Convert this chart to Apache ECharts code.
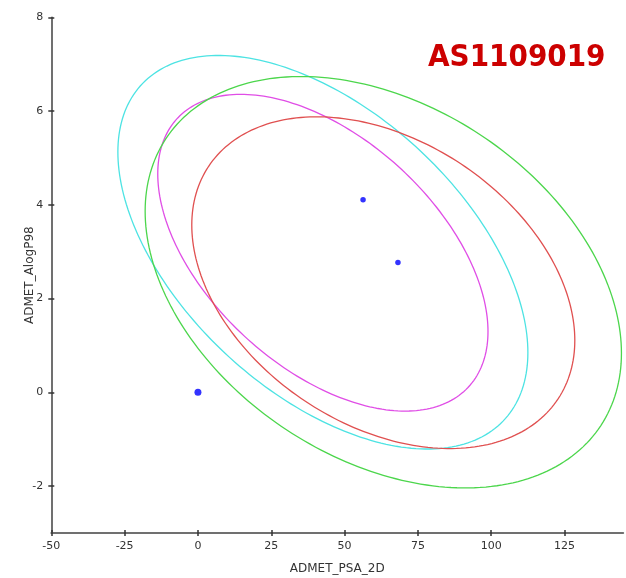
<!DOCTYPE html>
<html>
<head>
<meta charset="utf-8">
<script src="https://cdn.jsdelivr.net/npm/echarts@6/dist/echarts.min.js"></script>
<style>
html,body{margin:0;padding:0;background:#fff;}
#chart{width:626px;height:578px;}
</style>
</head>
<body>
<div id="chart"></div>
<script>
// ---- Data ----
const chartTitle = 'AS1109019';
const xAxisName = 'ADMET_PSA_2D';
const yAxisName = 'ADMET_AlogP98';
const xTicks = [-50, -25, 0, 25, 50, 75, 100, 125];
const yTicks = [-2, 0, 2, 4, 6, 8];
const xMin = -50, xMax = 145;
const yMin = -3, yMax = 8;

// compound points
const refPointX = [0];
const refPointY = [0];
const compoundX = [56.3, 68.2];
const compoundY = [4.11, 2.77];

// ellipses (cyan, magenta, red, green): centre, half-extent in x, half-extent in y,
// and x offset of the topmost point from the centre
const ellipseCenterX = [42.6, 42.6, 63.2, 63.2];
const ellipseCenterY = [2.99, 2.98, 2.34, 2.35];
const ellipseHalfWidth = [69.9, 56.3, 65.3, 81.2];
const ellipseHalfHeight = [4.20, 3.38, 3.54, 4.39];
const ellipseTopOffsetX = [-35.6, -28.0, -22.7, -28.0];

// ---- Styles ----
const ellipseColors = ['#4de3e3', '#e04ee6', '#e05050', '#4cd64c'];
const labelFont = 'DejaVu Sans';

const chart = echarts.init(document.getElementById('chart'), null, {renderer: 'canvas'});

const ellipseData = ellipseCenterX.map((x, i) => [x, ellipseCenterY[i], ellipseHalfWidth[i], ellipseHalfHeight[i], ellipseTopOffsetX[i]]);

function baseX(extra) {
  return Object.assign({
    type: 'value', min: xMin, max: xMax, position: 'bottom',
    splitLine: {show: false}
  }, extra);
}
function baseY(extra) {
  return Object.assign({
    type: 'value', min: yMin, max: yMax, position: 'left',
    splitLine: {show: false}
  }, extra);
}

const option = {
  backgroundColor: '#ffffff',
  animation: false,
  grid: {left: 51.3, right: 2.8, top: 17.5, bottom: 45.1, containLabel: false, outerBoundsMode: 'none'},
  graphic: [{
    type: 'text', left: 428, top: 42,
    style: {
      text: chartTitle, fill: '#cc0000',
      font: 'bold 31px "DejaVu Sans Condensed", "DejaVu Sans"'
    }
  }],
  xAxis: [
    baseX({
      name: xAxisName, nameLocation: 'middle', nameGap: 30, nameMoveOverlap: false,
      nameTextStyle: {fontFamily: labelFont, fontSize: 12, color: '#333'},
      axisLine: {show: true, onZero: false, lineStyle: {color: '#707070', width: 2}},
      axisTick: {show: true, inside: false, length: 3, customValues: xTicks, lineStyle: {color: '#333', width: 1.5}},
      axisLabel: {show: true, margin: 8, customValues: xTicks, fontFamily: labelFont, fontSize: 11, color: '#333'}
    }),
    baseX({
      axisLine: {show: false, onZero: false},
      axisTick: {show: true, inside: true, length: 3, customValues: xTicks, lineStyle: {color: '#333', width: 1.5}},
      axisLabel: {show: false}
    })
  ],
  yAxis: [
    baseY({
      name: yAxisName, nameLocation: 'middle', nameGap: 15, nameMoveOverlap: false,
      nameTextStyle: {fontFamily: labelFont, fontSize: 12, color: '#333'},
      axisLine: {show: true, onZero: false, lineStyle: {color: '#707070', width: 2}},
      axisTick: {show: true, inside: false, length: 3, customValues: yTicks, lineStyle: {color: '#333', width: 1.5}},
      axisLabel: {show: true, margin: 8, customValues: yTicks, fontFamily: labelFont, fontSize: 11, color: '#333'}
    }),
    baseY({
      axisLine: {show: false, onZero: false},
      axisTick: {show: true, inside: true, length: 3, customValues: yTicks, lineStyle: {color: '#333', width: 1.5}},
      axisLabel: {show: false}
    })
  ],
  series: [
    {
      type: 'custom',
      xAxisIndex: 0, yAxisIndex: 0,
      data: ellipseData,
      renderItem: function (params, api) {
        const cx = api.value(0), cy = api.value(1), w = api.value(2), h = api.value(3), t = api.value(4);
        const phi = Math.asin(t / w);
        const pts = [];
        const n = 240;
        for (let k = 0; k < n; k++) {
          const th = 2 * Math.PI * k / n;
          pts.push(api.coord([cx + w * Math.cos(th), cy + h * Math.sin(th + phi)]));
        }
        return {
          type: 'polygon',
          shape: {points: pts},
          style: {fill: 'none', stroke: ellipseColors[params.dataIndex], lineWidth: 1.3}
        };
      },
      z: 2
    },
    {
      type: 'scatter',
      data: refPointX.map((x, i) => [x, refPointY[i]]),
      symbol: 'circle', symbolSize: 7,
      itemStyle: {color: '#0000ff'},
      z: 3
    },
    {
      type: 'scatter',
      data: compoundX.map((x, i) => [x, compoundY[i]]),
      symbol: 'circle', symbolSize: 5.5,
      itemStyle: {color: '#0000ff'},
      z: 3
    }
  ]
};
chart.setOption(option);
</script>
</body>
</html>
